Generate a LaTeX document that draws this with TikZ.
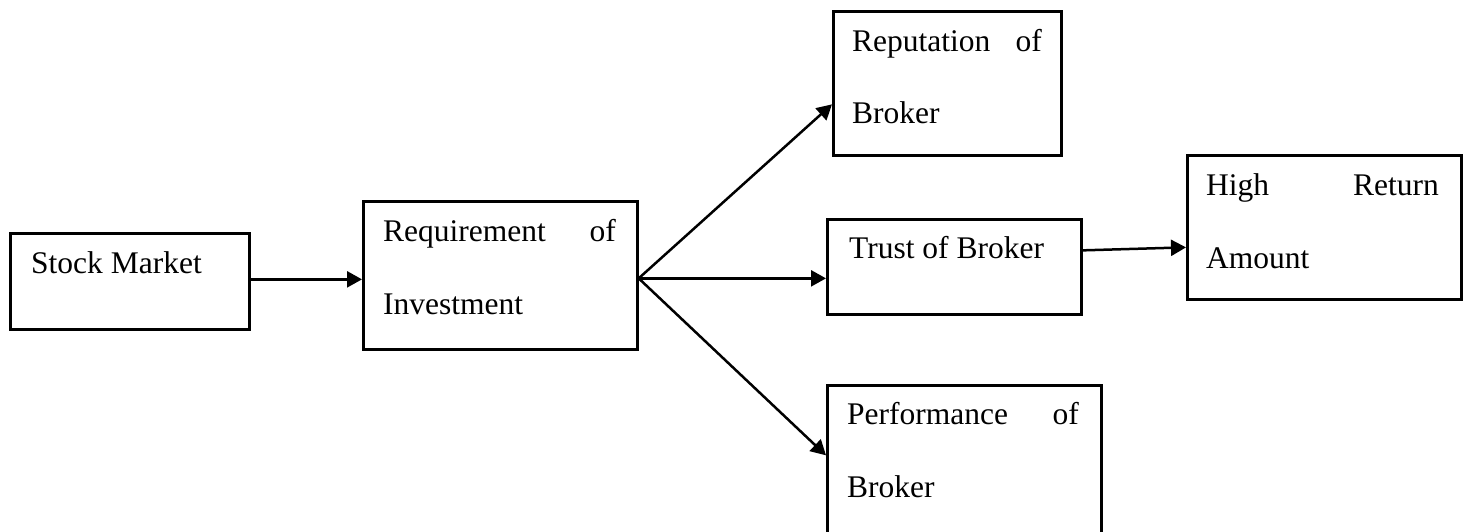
\documentclass[tikz,border=0pt]{standalone}
\usepackage{fontspec}
\setmainfont{Liberation Serif}
\usetikzlibrary{arrows.meta}
\begin{document}
\begin{tikzpicture}[x=1pt,y=-1pt,
  box/.style={draw, line width=2.7pt, inner sep=0pt, anchor=north west},
  lbl/.style={anchor=base west, inner sep=0pt, font=\fontsize{31.5}{36}\selectfont},
  lblr/.style={anchor=base east, inner sep=0pt, font=\fontsize{31.5}{36}\selectfont},
  conn/.style={-{Triangle[length=15pt,width=16pt]}, line width=2.5pt}]
\clip (0,0) rectangle (1465,531);
% boxes
\node[box, minimum width=239pt, minimum height=96pt] (stock) at (9,232) {};
\node[box, minimum width=274pt, minimum height=148pt] (req) at (362,200) {};
\node[box, minimum width=228pt, minimum height=144pt] (rep) at (832,10) {};
\node[box, minimum width=254pt, minimum height=95pt] (trust) at (826,218) {};
\node[box, minimum width=274pt, minimum height=144pt] (high) at (1186,154) {};
\node[box, minimum width=274pt, minimum height=170pt] (perf) at (826,384) {};
% labels
\node[lbl] (stockA) at (31,273) {Stock Market};
\node[lbl] (reqA) at (383,241) {Requirement};
\node[lblr] (reqB) at (616,241) {of};
\node[lbl] (reqC) at (383,314) {Investment};
\node[lbl] (repA) at (852,51) {Reputation};
\node[lblr] (repB) at (1042,51) {of};
\node[lbl] (repC) at (852,123) {Broker};
\node[lbl] (trustA) at (849,258) {Trust of Broker};
\node[lbl] (highA) at (1206,195) {High};
\node[lblr] (highB) at (1439,195) {Return};
\node[lbl] (highC) at (1206,268) {Amount};
\node[lbl] (perfA) at (847,424) {Performance};
\node[lblr] (perfB) at (1079,424) {of};
\node[lbl] (perfC) at (847,497) {Broker};
% connectors
\coordinate (fan) at ([yshift=-3pt]req.east);
\draw[conn] ([yshift=2pt]stock.east) -- ([yshift=2pt]stock.east -| req.west);
\draw[conn] (fan) -- ([yshift=-21pt]rep.west);
\draw[conn] (fan) -- (fan -| trust.west);
\draw[conn] (fan) -- ([yshift=15pt]perf.west);
\draw[conn] ([yshift=16.5pt]trust.east) -- ([yshift=-20pt]high.west);
\end{tikzpicture}
\end{document}
